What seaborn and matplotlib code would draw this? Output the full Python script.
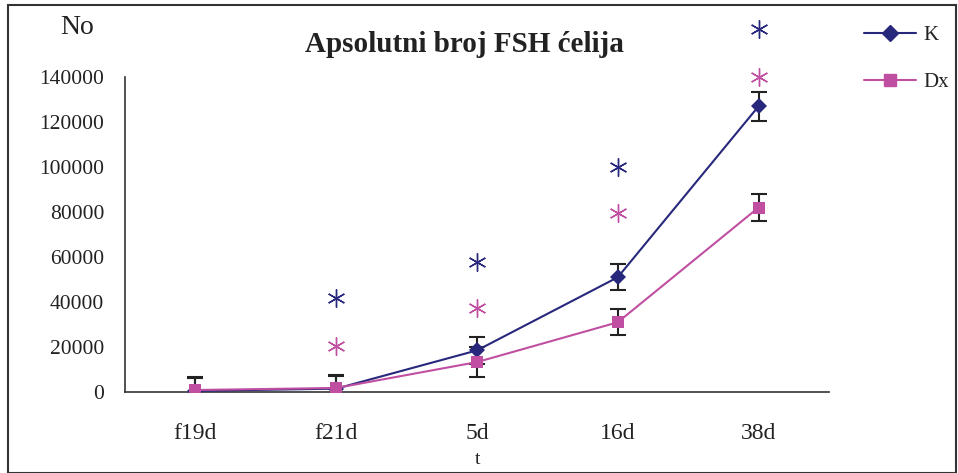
import matplotlib
matplotlib.use("Agg")
import matplotlib.pyplot as plt
import seaborn as sns
import pandas as pd
from matplotlib.lines import Line2D
from matplotlib.patches import Rectangle

# values
days = ["f19d", "f21d", "5d", "16d", "38d"]
k_mean = [500, 1500, 18500, 51000, 127000]
k_err = [6000, 6000, 6000, 5800, 6400]
dx_mean = [900, 1800, 13300, 31000, 82000]
dx_err = [5500, 5500, 6700, 5800, 5800]
# significance asterisks (no marker for f19d)
k_star = [None, 41800, 57800, 100000, 161300]
dx_star = [None, 20400, 37300, 79600, 140000]

k_color = "#27287C"
dx_color = "#C04FA2"

df = pd.DataFrame({
    "t": days * 2,
    "No": k_mean + dx_mean,
    "group": ["K"] * len(days) + ["Dx"] * len(days),
})

sns.set_style("white")
plt.rcParams["font.family"] = ["Liberation Serif", "DejaVu Serif"]

fig = plt.figure(figsize=(9.58, 4.73), dpi=100)
ax = fig.add_axes([0.1305, 0.1712, 0.7348, 0.666])

sns.lineplot(data=df, x="t", y="No", hue="group", style="group",
             palette={"K": k_color, "Dx": dx_color},
             markers={"K": "D", "Dx": "s"}, dashes=False,
             markersize=8, markeredgewidth=0, linewidth=1.5,
             legend=False, ax=ax, sort=False, zorder=3)

xs = list(range(len(days)))
ax.errorbar(xs, k_mean, yerr=k_err, fmt="none", ecolor="#222222",
            elinewidth=1.5, capsize=6, capthick=1.5, zorder=2)
ax.errorbar(xs, dx_mean, yerr=dx_err, fmt="none", ecolor="#222222",
            elinewidth=1.5, capsize=6, capthick=1.5, zorder=2)

for stars, col in [(k_star, k_color), (dx_star, dx_color)]:
    sx = [x for x, s in zip(xs, stars) if s is not None]
    sy = [s for s in stars if s is not None]
    ax.plot(sx, sy, linestyle="none", marker=(6, 2, 0), markersize=13,
            markeredgewidth=1.0, color=col, clip_on=False, zorder=4)

ax.set_xlim(-0.5, len(days) - 0.5)
ax.set_ylim(0, 140000)
ax.set_yticks(range(0, 140001, 20000))
ax.set_yticklabels([str(v) for v in range(0, 140001, 20000)])
ax.set_xticks([x - 0.5 for x in range(len(days) + 1)])
ax.set_xticklabels([])
ax.set_xticks(xs, minor=True)
ax.set_xticklabels(days, minor=True)
ax.tick_params(axis="x", which="major", direction="out", length=8,
               width=1, color="#333333")
ax.tick_params(axis="x", which="minor", length=0, pad=22,
               labelsize=17, labelcolor="#222222")
ax.tick_params(axis="y", direction="out", length=8, width=1,
               color="#333333", labelsize=15.5, labelcolor="#222222", pad=7)
ax.set_xlabel("")
ax.set_ylabel("")
for side in ["top", "right"]:
    ax.spines[side].set_visible(False)
for side in ["left", "bottom"]:
    ax.spines[side].set_color("#333333")
    ax.spines[side].set_linewidth(1.2)
ax.grid(False)

fig.text(0.485, 0.905, "Apsolutni broj FSH ćelija", ha="center", va="center",
         fontsize=21, fontweight="bold", color="#222222")
fig.text(0.080, 0.941, "No", ha="center", va="center", fontsize=20,
         color="#222222")
fig.text(0.499, 0.028, "t", ha="center", va="center", fontsize=14,
         color="#222222")

handles = [
    Line2D([], [], color=k_color, marker="D", markersize=8, linewidth=1.5),
    Line2D([], [], color=dx_color, marker="s", markersize=8, linewidth=1.5),
]
fig.legend(handles, ["K", "Dx"], loc="upper left",
           bbox_to_anchor=(0.882, 0.985), frameon=False, fontsize=15,
           handlelength=2.5, handletextpad=0.35, labelspacing=1.3,
           labelcolor="#222222")

fig.patches.append(Rectangle((0.008, 0.0), 0.99, 0.989, transform=fig.transFigure,
                             fill=False, edgecolor="#333333", linewidth=1.5))

fig.savefig("out.png", dpi=100)
